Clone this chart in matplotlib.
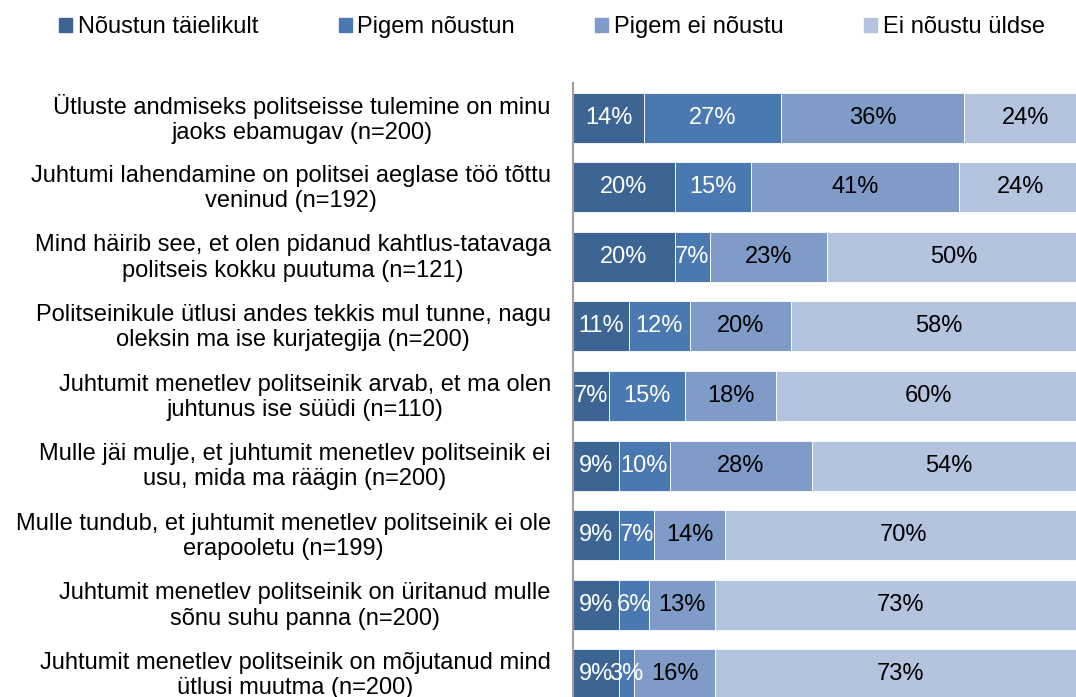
import numpy as np
import matplotlib.pyplot as plt
from matplotlib.patches import Patch
from matplotlib.transforms import ScaledTranslation

# =============================================================================
# DATA
# =============================================================================
labels = [
    "Ütluste andmiseks politseisse tulemine on minu\njaoks ebamugav (n=200)",
    "Juhtumi lahendamine on politsei aeglase töö tõttu\nveninud (n=192)",
    "Mind häirib see, et olen pidanud kahtlus-tatavaga\npolitseis kokku puutuma (n=121)",
    "Politseinikule ütlusi andes tekkis mul tunne, nagu\noleksin ma ise kurjategija (n=200)",
    "Juhtumit menetlev politseinik arvab, et ma olen\njuhtunus ise süüdi (n=110)",
    "Mulle jäi mulje, et juhtumit menetlev politseinik ei\nusu, mida ma räägin (n=200)",
    "Mulle tundub, et juhtumit menetlev politseinik ei ole\nerapooletu (n=199)",
    "Juhtumit menetlev politseinik on üritanud mulle\nsõnu suhu panna (n=200)",
    "Juhtumit menetlev politseinik on mõjutanud mind\nütlusi muutma (n=200)",
]
series = ["Nõustun täielikult", "Pigem nõustun", "Pigem ei nõustu", "Ei nõustu üldse"]
taielikult = [14, 20, 20, 11, 7, 9, 9, 9, 9]
pigem_jah  = [27, 15, 7, 12, 15, 10, 7, 6, 3]
pigem_ei   = [36, 41, 23, 20, 18, 28, 14, 13, 16]
uldse      = [24, 24, 50, 58, 60, 54, 70, 73, 73]

colors = ['#3D6594', '#4A78B0', '#7F9CC8', '#B4C3DE']
txt_colors = ['white', 'white', 'black', 'black']

plt.rcParams['font.family'] = ['Liberation Sans', 'DejaVu Sans']
FS = 17

# =============================================================================
# PLOT
# =============================================================================
fig = plt.figure(figsize=(10.76, 6.97), dpi=100)
ax = fig.add_axes([573/1076, -12/697, 1 - 573/1076, (709 - 83)/697])

y = np.arange(len(labels))
left = np.zeros(len(labels))
for vals, c, tc, name in zip([taielikult, pigem_jah, pigem_ei, uldse], colors, txt_colors, series):
    vals = np.array(vals, dtype=float)
    ax.barh(y, vals, left=left, height=0.72, color=c, edgecolor='white',
            linewidth=0.6, label=name)
    for xi, yi, v in zip(left + vals / 2, y, vals):
        ax.text(xi, yi, f"{int(v)}%", ha='center', va='center', color=tc, fontsize=FS)
    left += vals

ax.set_xlim(0, 99)
ax.set_ylim(len(labels) - 0.5, -0.5)
ax.set_yticks(y)
ax.set_yticklabels(labels, fontsize=FS, multialignment='center', linespacing=1.2)
ax.tick_params(axis='y', length=0, pad=16)
# nudge category labels up a little
shift = ScaledTranslation(0, 3/100, fig.dpi_scale_trans)
for lab in ax.get_yticklabels():
    lab.set_transform(lab.get_transform() + shift)
ax.set_xticks([])
for s in ['top', 'right', 'bottom']:
    ax.spines[s].set_visible(False)
ax.spines['left'].set_color('#A0A0A0')
ax.spines['left'].set_linewidth(1.5)

handles = [Patch(color=c) for c in colors]
fig.legend(handles, series, loc='center', bbox_to_anchor=(552/1076, 1 - 27/697), ncol=4,
           frameon=False, fontsize=FS, handlelength=0.55, handleheight=0.55,
           handletextpad=0.25, columnspacing=3.4)

fig.savefig('out.png', dpi=100)
